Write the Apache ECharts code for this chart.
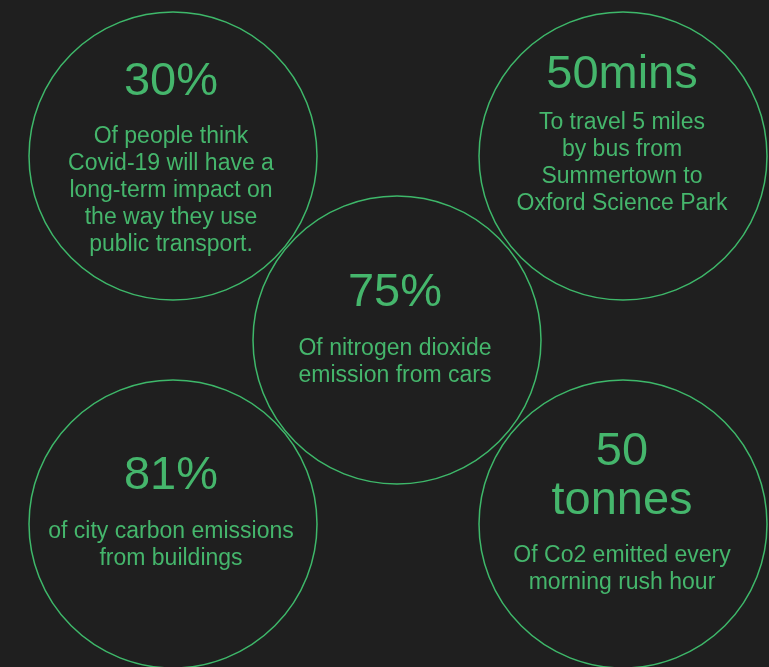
<!DOCTYPE html>
<html lang="en">
<head>
    <meta charset="UTF-8">
    <title>Oxford transport facts</title>
    <style>
        html, body { margin: 0; padding: 0; background: #1f1f1f; }
    </style>
</head>
<body>

    <script src="https://cdn.jsdelivr.net/npm/echarts@6/dist/echarts.min.js"></script>

    <div id="main" style="width: 769px;height:667px;"></div>

    <script>
        // stats shown in the bubbles
        var headlines = ['30%', '50mins', '75%', '81%', '50\ntonnes'];
        var descriptions = [
            ['Of people think', 'Covid-19 will have a', 'long-term impact on', 'the way they use', 'public transport.'],
            ['To travel 5 miles', 'by bus from', 'Summertown to', 'Oxford Science Park'],
            ['Of nitrogen dioxide', 'emission from cars'],
            ['of city carbon emissions', 'from buildings'],
            ['Of Co2 emitted every', 'morning rush hour']
        ];

        // bubble layout (canvas pixels) and text tweaks
        var centerX = [173, 623, 397, 173, 623];
        var centerY = [156, 156, 340, 524, 524];
        var gapHeight = [17, 10, 17, 17, 17];
        var labelShift = [[-2, 2], [-1, -22], [-2, -11], [-2, -12], [-1, -12]];

        var green = '#45b66c';
        var font = '"Liberation Sans", Arial, Helvetica, sans-serif';

        function buildLabel(i) {
            var parts = headlines[i].split('\n').map(function (t) { return '{big|' + t + '}'; });
            parts.push('{gap| }');
            descriptions[i].forEach(function (t) { parts.push('{small|' + t + '}'); });
            return {
                show: true,
                position: 'inside',
                offset: labelShift[i],
                formatter: parts.join('\n'),
                align: 'center',
                rich: {
                    big: { fontSize: 47, lineHeight: 49, color: green, fontFamily: font, align: 'center' },
                    gap: { fontSize: 1, lineHeight: gapHeight[i], color: 'transparent' },
                    small: { fontSize: 23, lineHeight: 27, color: green, fontFamily: font, align: 'center' }
                }
            };
        }

        var points = [];
        for (var i = 0; i < headlines.length; i++) {
            points.push({
                value: [centerX[i], centerY[i]],
                label: buildLabel(i)
            });
        }

        var myChart = echarts.init(document.getElementById('main'));

        var option = {
            backgroundColor: '#1f1f1f',
            animation: false,
            grid: { left: 0, right: 0, top: 0, bottom: 0 },
            xAxis: { type: 'value', min: 0, max: 769, show: false },
            yAxis: { type: 'value', min: 0, max: 667, inverse: true, show: false },
            series: [{
                type: 'scatter',
                symbol: 'circle',
                symbolSize: 288,
                silent: true,
                itemStyle: {
                    color: 'rgba(0,0,0,0)',
                    borderColor: '#3eb86a',
                    borderWidth: 1.5,
                    opacity: 1
                },
                emphasis: { disabled: true },
                data: points
            }]
        };
        myChart.setOption(option);
    </script>

</body>
</html>
